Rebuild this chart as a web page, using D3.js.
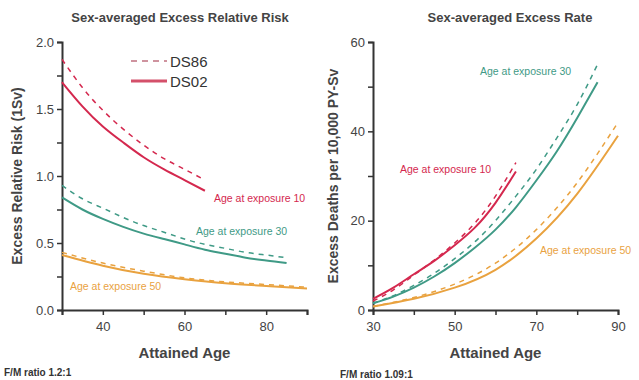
<!DOCTYPE html>
<html>
<head>
<meta charset="utf-8">
<script src="https://cdn.jsdelivr.net/npm/d3@7"></script>
<style>
  body { margin: 0; background: #fff; }
  svg { font-family: "Liberation Sans", Arial, sans-serif; }
</style>
</head>
<body>
<svg id="chart" width="639" height="380"></svg>
<script>
// attained ages used for the curves
const agesErr10 = [30, 35, 40, 45, 50, 55, 60, 65];
const agesErr30 = [30, 35, 40, 45, 50, 55, 60, 65, 70, 75, 80, 85];
const agesErr50 = [30, 40, 50, 60, 70, 80, 90];

// left panel: excess relative risk
const err10DS02 = [1.70, 1.52, 1.37, 1.25, 1.14, 1.05, 0.97, 0.89];
const err10DS86 = [1.87, 1.66, 1.49, 1.35, 1.23, 1.13, 1.05, 0.97];
const err30DS02 = [0.84, 0.75, 0.68, 0.62, 0.57, 0.53, 0.49, 0.45, 0.42, 0.39, 0.37, 0.35];
const err30DS86 = [0.93, 0.83, 0.76, 0.69, 0.63, 0.58, 0.53, 0.49, 0.46, 0.43, 0.41, 0.39];
const err50DS02 = [0.41, 0.33, 0.27, 0.23, 0.20, 0.18, 0.16];
const err50DS86 = [0.43, 0.35, 0.29, 0.24, 0.21, 0.19, 0.17];

// right panel: excess rate
const ear10DS02 = [2.5, 5, 8, 11, 14.5, 18.5, 24, 31];
const ear10DS86 = [2, 4.5, 7.8, 11.2, 15, 19.5, 25.5, 33];
const ear30DS02 = [1.5, 3, 5, 7.5, 10.5, 14, 18, 23, 29, 35.5, 43, 51];
const ear30DS86 = [1.5, 3.2, 5.5, 8.2, 11.5, 15.3, 20, 25.5, 31.5, 38.5, 46, 55];
const ear50DS02 = [0.8, 2.5, 5, 9, 16, 26, 39];
const ear50DS86 = [0.8, 2.8, 5.8, 10.5, 18, 28.5, 42];

const errTicks = [0, 0.5, 1.0, 1.5, 2.0];
const earTicks = [0, 20, 40, 60];

const red = "#d4284e", teal = "#3f9a86", orange = "#e9a23f";
const svg = d3.select("#chart");

function panel(opt) {
  const g = svg.append("g");
  const x = d3.scaleLinear().domain([30, 90]).range([opt.left, opt.right]);
  const y = d3.scaleLinear().domain(opt.yDomain).range([310, 42]);

  // axes
  const xa = g.append("g").attr("transform", "translate(0,310)")
    .call(d3.axisBottom(x).tickValues(d3.range(30, 91, 10)).tickSize(5)
      .tickFormat(d => opt.xLabels.includes(d) ? d : ""));
  const ya = g.append("g").attr("transform", `translate(${opt.left},0)`)
    .call(d3.axisLeft(y).tickValues(opt.yMinor).tickSize(5)
      .tickFormat(d => opt.yTicks.includes(d) ? opt.yFmt(d) : ""));
  [xa, ya].forEach(a => {
    a.select(".domain").attr("stroke", "#333").attr("stroke-width", 2);
    a.selectAll(".tick line").attr("stroke", "#333").attr("stroke-width", 1.5);
    a.selectAll("text").attr("font-size", 13).attr("fill", "#444");
  });
  xa.selectAll("text").attr("dy", "1.0em");

  const line = d3.line().x(d => x(d[0])).y(d => y(d[1])).curve(d3.curveNatural);
  opt.series.forEach(s => {
    g.append("path")
      .attr("d", line(d3.zip(s.ages, s.values)))
      .attr("fill", "none")
      .attr("stroke", s.color)
      .attr("stroke-width", s.dash ? 1.5 : 2)
      .attr("stroke-dasharray", s.dash ? "5,5" : null);
  });

  opt.labels.forEach(l => {
    g.append("text").attr("x", l.x).attr("y", l.y)
      .attr("font-size", 10.5).attr("fill", l.color).text(l.text);
  });

  g.append("text").attr("x", opt.titleX).attr("y", 22)
    .attr("text-anchor", "middle").attr("font-size", 13).attr("font-weight", "bold")
    .attr("fill", "#444").text(opt.title);
  g.append("text").attr("x", (opt.left + opt.right) / 2).attr("y", 358)
    .attr("text-anchor", "middle").attr("font-size", 15).attr("font-weight", "bold")
    .attr("fill", "#444").text("Attained Age");
  g.append("text")
    .attr("transform", `translate(${opt.yLabelX},176) rotate(-90)`)
    .attr("text-anchor", "middle").attr("font-size", 14).attr("font-weight", "bold")
    .attr("fill", "#444").text(opt.yLabel);
  g.append("text").attr("x", opt.noteX).attr("y", opt.noteY)
    .attr("font-size", 10).attr("font-weight", "bold").attr("fill", "#333")
    .text(opt.note);
}

panel({
  left: 62, right: 307, yDomain: [0, 2],
  yTicks: errTicks, yMinor: d3.range(0, 2.01, 0.25).map(d => +d.toFixed(2)),
  yFmt: d3.format(".1f"), xLabels: [40, 60, 80],
  title: "Sex-averaged Excess Relative Risk", titleX: 180,
  yLabel: "Excess Relative Risk (1Sv)", yLabelX: 22,
  note: "F/M ratio  1.2:1", noteX: 4, noteY: 376,
  series: [
    {ages: agesErr10, values: err10DS86, color: red, dash: true},
    {ages: agesErr10, values: err10DS02, color: red},
    {ages: agesErr30, values: err30DS86, color: teal, dash: true},
    {ages: agesErr30, values: err30DS02, color: teal},
    {ages: agesErr50, values: err50DS86, color: orange, dash: true},
    {ages: agesErr50, values: err50DS02, color: orange}
  ],
  labels: [
    {x: 214, y: 202, text: "Age at exposure 10", color: red},
    {x: 196, y: 235, text: "Age at exposure 30", color: teal},
    {x: 70, y: 290, text: "Age at exposure 50", color: orange}
  ]
});

panel({
  left: 373, right: 618, yDomain: [0, 60],
  yTicks: earTicks, yMinor: d3.range(0, 61, 10),
  yFmt: d3.format("d"), xLabels: [30, 50, 70, 90],
  title: "Sex-averaged Excess Rate", titleX: 510,
  yLabel: "Excess Deaths per 10,000 PY-Sv", yLabelX: 338,
  note: "F/M ratio 1.09:1", noteX: 340, noteY: 378,
  series: [
    {ages: agesErr10, values: ear10DS86, color: red, dash: true},
    {ages: agesErr10, values: ear10DS02, color: red},
    {ages: agesErr30, values: ear30DS86, color: teal, dash: true},
    {ages: agesErr30, values: ear30DS02, color: teal},
    {ages: agesErr50, values: ear50DS86, color: orange, dash: true},
    {ages: agesErr50, values: ear50DS02, color: orange}
  ],
  labels: [
    {x: 400, y: 173, text: "Age at exposure 10", color: red},
    {x: 480, y: 75, text: "Age at exposure 30", color: teal},
    {x: 540, y: 254, text: "Age at exposure 50", color: orange}
  ]
});

// legend
const legend = [{name: "DS86", dash: true, y: 61}, {name: "DS02", dash: false, y: 81}];
legend.forEach(l => {
  svg.append("line").attr("x1", 131).attr("x2", 167).attr("y1", l.y).attr("y2", l.y)
    .attr("stroke", l.dash ? "#c07080" : "#d4506a").attr("stroke-width", l.dash ? 1.5 : 3)
    .attr("stroke-dasharray", l.dash ? "6,5" : null);
  svg.append("text").attr("x", 170).attr("y", l.y + 6).attr("font-size", 15)
    .attr("fill", "#333").text(l.name);
});
</script>
</body>
</html>
